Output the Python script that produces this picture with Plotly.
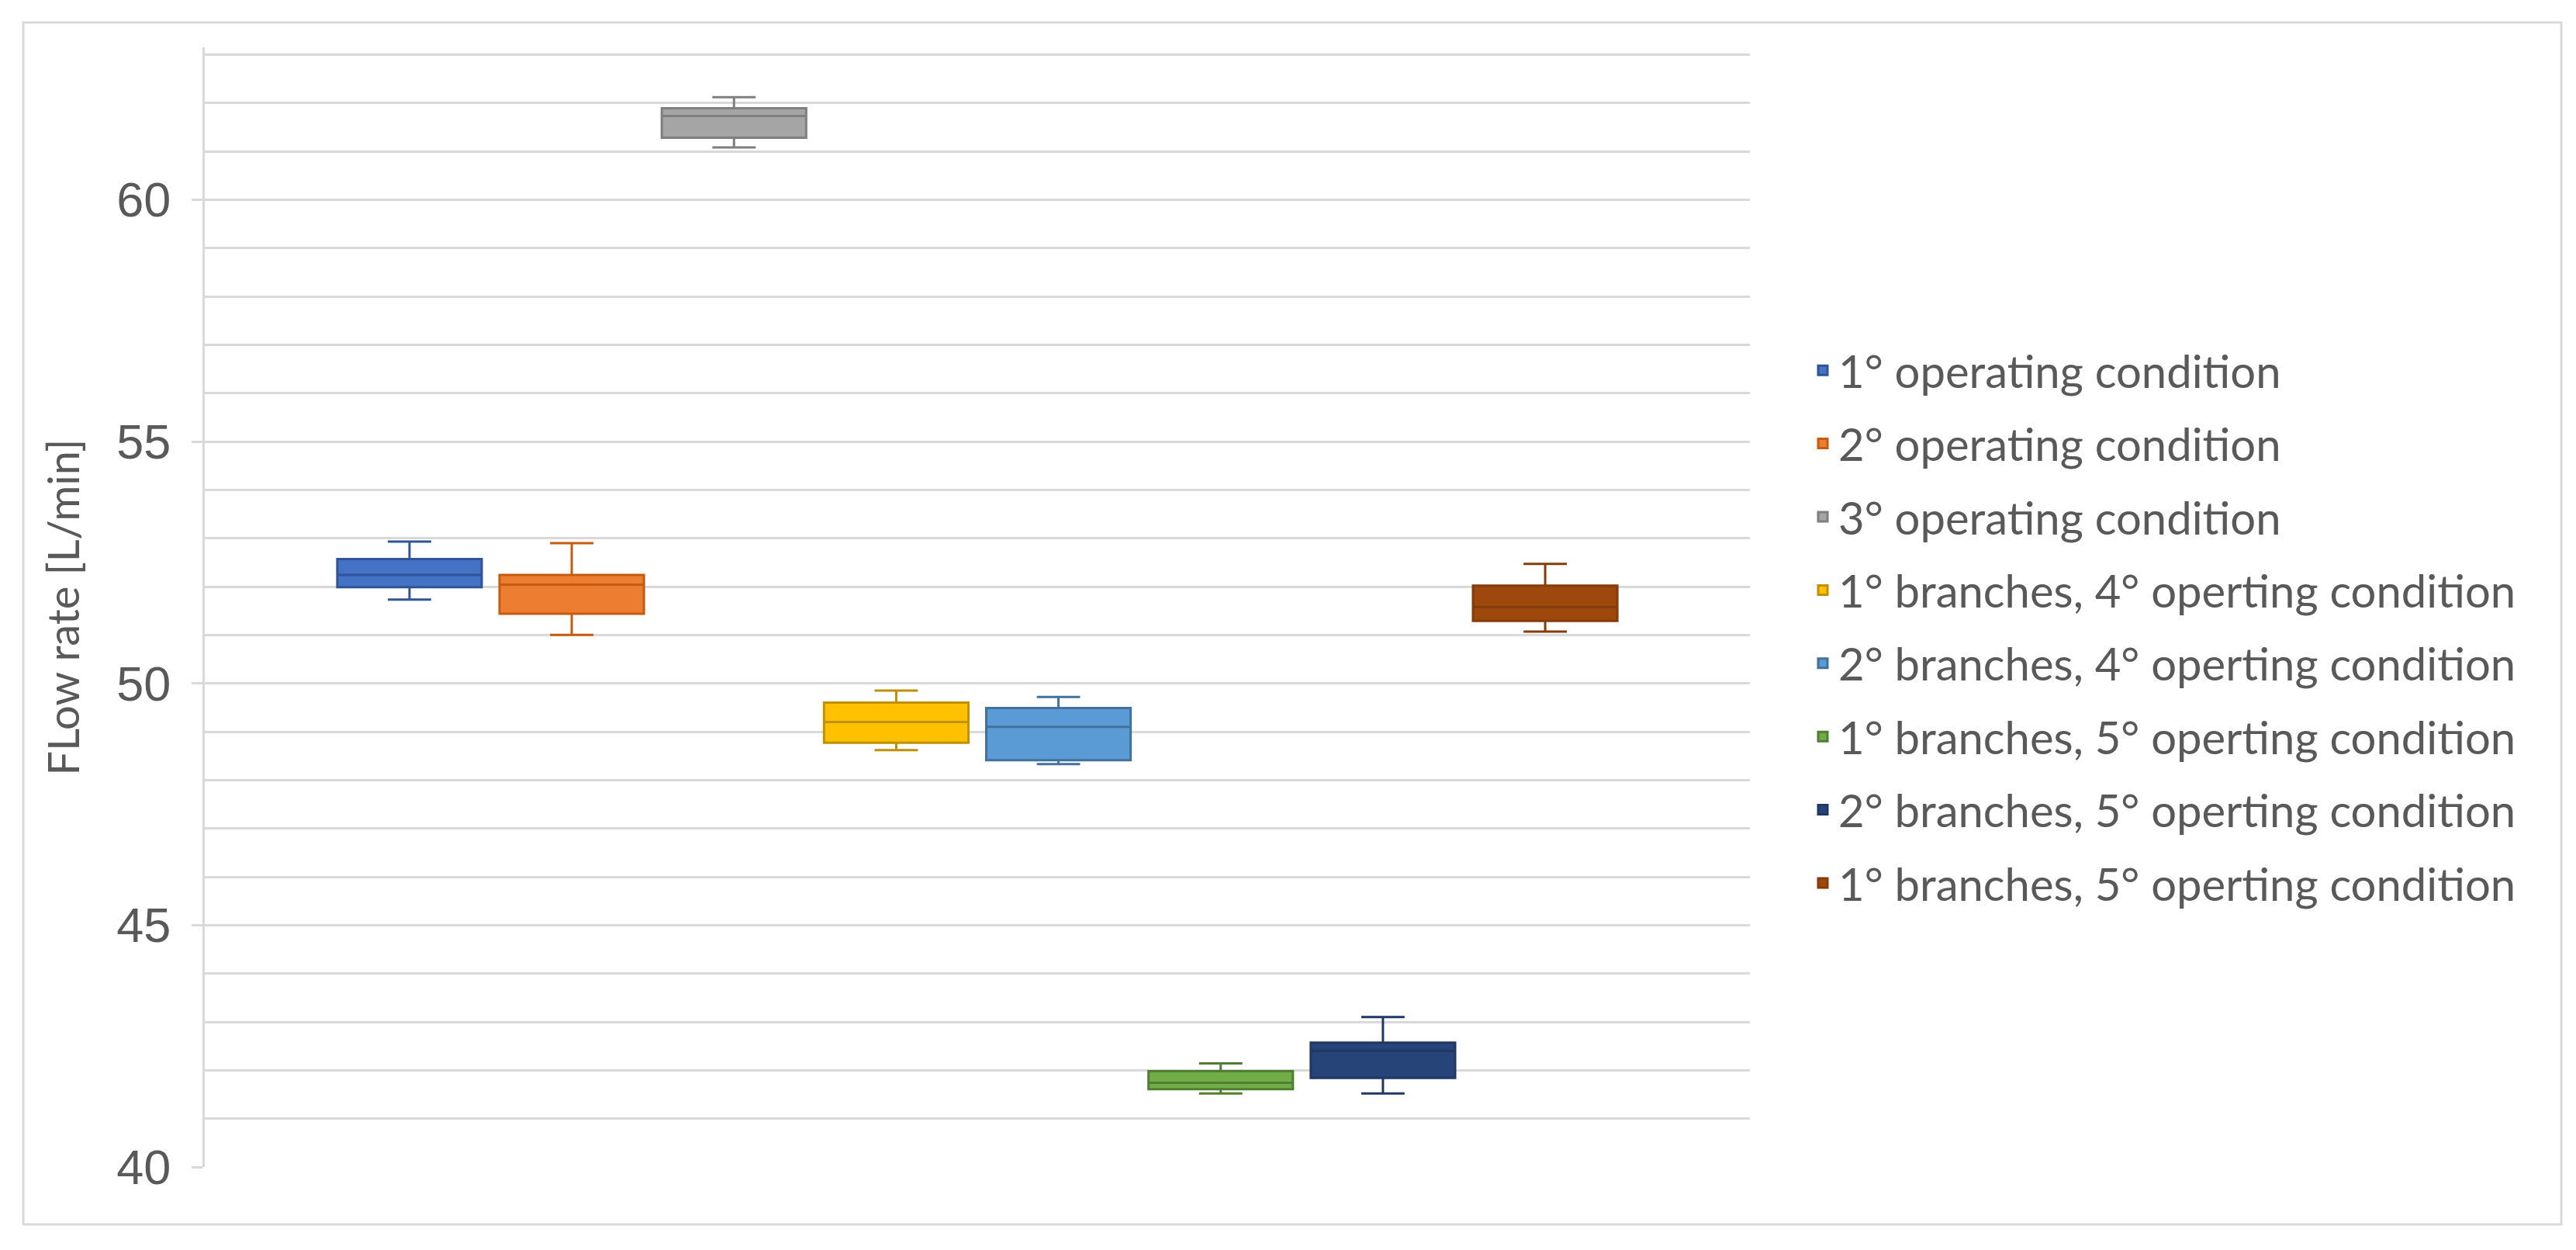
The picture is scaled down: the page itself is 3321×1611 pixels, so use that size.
import plotly.graph_objects as go

# box statistics (L/min)
names = [
    "1° operating condition",
    "2° operating condition",
    "3° operating condition",
    "1° branches, 4° operting condition",
    "2° branches, 4° operting condition",
    "1° branches, 5° operting condition",
    "2° branches, 5° operting condition",
    "1° branches, 5° operting condition",
]
lower = [51.73, 51.00, 61.08, 48.62, 48.33, 41.52, 41.52, 51.07]
q1 = [51.99, 51.44, 61.28, 48.77, 48.41, 41.61, 41.84, 51.29]
median = [52.24, 52.04, 61.73, 49.20, 49.10, 41.74, 42.40, 51.58]
q3 = [52.57, 52.24, 61.89, 49.60, 49.49, 41.98, 42.57, 52.02]
upper = [52.93, 52.90, 62.12, 49.85, 49.72, 42.14, 43.10, 52.47]

fill_colors = ["#4472C4", "#ED7D31", "#A5A5A5", "#FFC000",
               "#5B9BD5", "#70AD47", "#264478", "#9E480E"]
line_colors = ["#2F5597", "#C55A11", "#7F7F7F", "#BF9000",
               "#41719C", "#507E32", "#1F3864", "#843C0C"]

category = ["flow"]
y_max = 63

fig = go.Figure()
for i, name in enumerate(names):
    fig.add_trace(go.Box(
        x=category,
        q1=[q1[i]], median=[median[i]], q3=[q3[i]],
        lowerfence=[lower[i]], upperfence=[upper[i]],
        name=name,
        legendgroup=f"g{i}",
        fillcolor=fill_colors[i],
        line=dict(color=line_colors[i], width=3),
        whiskerwidth=0.3,
        boxpoints=False,
    ))

grid = "#d9d9d9"
text_color = "#595959"

# plot area in pixels
left, right, top, bottom = 256, 1073, 53, 115
pw = 3321 - left - right
ph = 1611 - top - bottom

fig.update_layout(
    width=3321,
    height=1611,
    margin=dict(l=left, r=right, t=top, b=bottom),
    paper_bgcolor="white",
    plot_bgcolor="white",
    boxmode="group",
    boxgap=0.16,
    boxgroupgap=0.11,
    font=dict(family="Lato", color=text_color),
    xaxis=dict(
        type="category",
        range=[-0.5, 0.5],
        showticklabels=False,
        showgrid=False,
        zeroline=False,
        showline=False,
        fixedrange=True,
    ),
    yaxis=dict(
        range=[40, y_max + 0.15],
        dtick=5,
        tick0=40,
        showgrid=True,
        gridcolor=grid,
        gridwidth=3,
        minor=dict(dtick=1, tick0=40, showgrid=True, gridcolor=grid, gridwidth=3),
        zeroline=False,
        showline=True,
        linecolor=grid,
        linewidth=3,
        ticks="outside",
        ticklen=14,
        tickwidth=3,
        tickcolor=grid,
        ticklabelstandoff=14,
        tickfont=dict(family="Liberation Sans", size=63, color=text_color),
        title=dict(
            text="FLow rate [L/min]",
            font=dict(family="Lato", size=56, color=text_color),
            standoff=30,
        ),
    ),
    legend=dict(
        x=(2322 - left) / pw,
        xanchor="left",
        y=(1611 - bottom - 800) / ph,
        yanchor="middle",
        font=dict(family="Lato", size=58, color=text_color),
        tracegroupgap=16,
        itemwidth=30,
        bgcolor="rgba(0,0,0,0)",
    ),
    showlegend=True,
)

# top gridline of the value axis
fig.add_shape(
    type="line",
    xref="paper", yref="y",
    x0=0, x1=1, y0=y_max, y1=y_max,
    line=dict(color=grid, width=3),
    layer="above",
)

# outer chart border
fig.add_shape(
    type="rect",
    xref="paper", yref="paper",
    x0=(22 - left) / pw, x1=(3294 - left) / pw,
    y0=(1611 - bottom - 1570) / ph, y1=(1611 - bottom - 21) / ph,
    line=dict(color=grid, width=3),
    fillcolor="rgba(0,0,0,0)",
    layer="below",
)

fig.write_html("out.html")
